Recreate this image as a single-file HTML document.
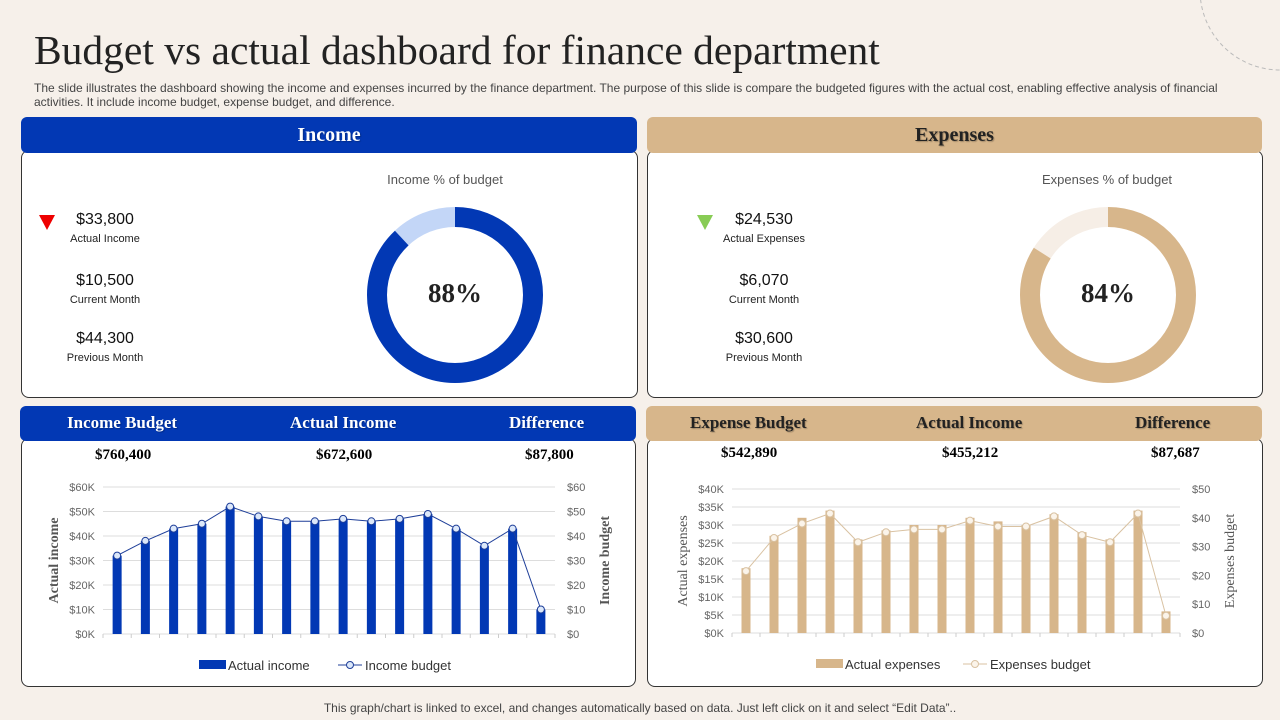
<!DOCTYPE html>
<html><head><meta charset="utf-8"><style>
body{margin:0;width:1280px;height:720px;background:#f6f0ea;font-family:"Liberation Sans",sans-serif;position:relative;overflow:hidden}
.a{position:absolute}
.serif{font-family:"Liberation Serif",serif}
.hdr{position:absolute;border-radius:6px;color:#fff;font-family:"Liberation Serif",serif;font-weight:bold;font-size:20px;text-align:center;line-height:36px;text-shadow:1px 1px 1px rgba(0,0,0,0.25)}
.panel{position:absolute;background:#fff;border:1px solid #333;border-radius:8px}
.kv{position:absolute;text-align:center;width:120px}
.kv b{display:block;font-weight:normal;font-size:16px;color:#111}
.kv span{font-size:11px;color:#222}
.sub{position:absolute;font-family:"Liberation Serif",serif;font-weight:bold;font-size:15px}
.lab{font-size:17px;text-shadow:1px 1px 1px rgba(0,0,0,0.25)}
</style></head><body>
<svg class="a" style="left:1160px;top:-10px" width="130" height="90"><circle cx="120" cy="0" r="80" fill="none" stroke="#bbb" stroke-dasharray="4,3"/></svg>
<div class="a serif" style="left:34px;top:26px;font-size:41.5px;color:#222">Budget vs actual dashboard for finance department</div>
<div class="a" style="left:34px;top:81px;width:1192px;font-size:12px;line-height:14px;color:#444">The slide illustrates the dashboard showing the income and expenses incurred by the finance department. The purpose of this slide is compare the budgeted figures with the actual cost, enabling effective analysis of financial activities. It include income budget, expense budget, and difference.</div>

<div class="panel" style="left:21px;top:150px;width:615px;height:246px"></div>
<div class="hdr" style="left:21px;top:117px;width:616px;height:36px;background:#0238b4">Income</div>
<div class="panel" style="left:647px;top:150px;width:614px;height:246px"></div>
<div class="hdr" style="left:647px;top:117px;width:615px;height:36px;background:#d7b68b;color:#222">Expenses</div>

<svg class="a" style="left:38px;top:213px" width="18" height="18"><polygon points="1,2 17,2 9,17" fill="#e00"/></svg>
<div class="kv" style="left:45px;top:211px"><b>$33,800</b><span>Actual Income</span></div>
<div class="kv" style="left:45px;top:272px"><b>$10,500</b><span>Current Month</span></div>
<div class="kv" style="left:45px;top:330px"><b>$44,300</b><span>Previous Month</span></div>
<svg class="a" style="left:696px;top:213px" width="18" height="18"><polygon points="1,2 17,2 9,17" fill="#8c5"/></svg>
<div class="kv" style="left:704px;top:211px"><b>$24,530</b><span>Actual Expenses</span></div>
<div class="kv" style="left:704px;top:272px"><b>$6,070</b><span>Current Month</span></div>
<div class="kv" style="left:704px;top:330px"><b>$30,600</b><span>Previous Month</span></div>

<div class="a" style="left:345px;top:172px;width:200px;text-align:center;font-size:13px;color:#555">Income % of budget</div>
<div class="a" style="left:1007px;top:172px;width:200px;text-align:center;font-size:13px;color:#555">Expenses % of budget</div>
<svg class="a" id="d1" style="left:355px;top:195px" width="200" height="200"></svg>
<svg class="a" id="d2" style="left:1008px;top:195px" width="200" height="200"></svg>
<div class="a serif" style="left:405px;top:278px;width:100px;text-align:center;font-size:27px;font-weight:bold;color:#222">88%</div>
<div class="a serif" style="left:1058px;top:278px;width:100px;text-align:center;font-size:27px;font-weight:bold;color:#222">84%</div>

<div class="panel" style="left:21px;top:438px;width:613px;height:247px"></div>
<div class="hdr" style="left:20px;top:406px;width:616px;height:35px;background:#0238b4;font-size:15px;line-height:35px"></div>
<div class="sub lab" style="left:67px;top:413px;color:#fff">Income Budget</div>
<div class="sub lab" style="left:290px;top:413px;color:#fff">Actual Income</div>
<div class="sub lab" style="left:509px;top:413px;color:#fff">Difference</div>
<div class="sub" style="left:95px;top:447px">$760,400</div>
<div class="sub" style="left:316px;top:447px">$672,600</div>
<div class="sub" style="left:525px;top:447px">$87,800</div>

<div class="panel" style="left:647px;top:438px;width:614px;height:247px"></div>
<div class="hdr" style="left:646px;top:406px;width:616px;height:35px;background:#d7b68b"></div>
<div class="sub lab" style="left:690px;top:413px;color:#222">Expense Budget</div>
<div class="sub lab" style="left:916px;top:413px;color:#222">Actual Income</div>
<div class="sub lab" style="left:1135px;top:413px;color:#222">Difference</div>
<div class="sub" style="left:721px;top:445px">$542,890</div>
<div class="sub" style="left:942px;top:445px">$455,212</div>
<div class="sub" style="left:1151px;top:445px">$87,687</div>

<svg class="a" id="c1" style="left:0;top:0" width="1280" height="720"></svg>
<div class="a" style="left:0;top:701px;width:1280px;text-align:center;font-size:12px;color:#444">This graph/chart is linked to excel, and changes automatically based on data. Just left click on it and select “Edit Data”..</div>
<script>
const incomeBars=[32,38,43,45,52,48,46,46,47,46,47,49,43,36,43,10];
const incomeLine=[32,38,43,45,52,48,46,46,47,46,47,49,43,36,43,10];
const incLeftTicks=['$0K','$10K','$20K','$30K','$40K','$50K','$60K'];
const incRightTicks=['$0','$10','$20','$30','$40','$50','$60'];
const expBars=[18,27,32,34,26,28.5,30,30,32,31,30,33,28,26,34,6];
const expLine=[21.5,33,38,41.5,31.5,35,36,36,39,37,37,40.5,34,31.5,41.5,6];
const expLeftTicks=['$0K','$5K','$10K','$15K','$20K','$25K','$30K','$35K','$40K'];
const expRightTicks=['$0','$10','$20','$30','$40','$50'];
const incomePct=88, expensePct=84;
const NS='http://www.w3.org/2000/svg';
function mk(p,t,a){const e=document.createElementNS(NS,t);for(const k in a)e.setAttribute(k,a[k]);p.appendChild(e);return e;}
function donut(id,pct,c1,c2){const s=document.getElementById(id);const cx=100,cy=100,r=78;
 const c=mk(s,'circle',{cx,cy,r,fill:'none',stroke:c2,'stroke-width':20});
 const L=2*Math.PI*r;const a=mk(s,'circle',{cx,cy,r,fill:'none',stroke:c1,'stroke-width':20,'stroke-dasharray':(L*pct/100)+' '+L,transform:'rotate(-90 100 100)'});
 }
donut('d1',incomePct,'#0238b4','#c3d6f7');donut('d2',expensePct,'#d7b68b','#f6eee6');
const svg=document.getElementById('c1');
function chart(o){const n=o.bars.length,x0=o.x0,x1=o.x1,y0=o.y0,y1=o.y1;const step=(x1-x0)/n;
 const yl=v=>y0-(v/o.lmax)*(y0-y1), yr=v=>y0-(v/o.rmax)*(y0-y1);
 o.lt.forEach((t,i)=>{const y=y0-i*(y0-y1)/(o.lt.length-1);
  const g=mk(svg,'line',{x1:x0,x2:x1,y1:y,y2:y,stroke:'#ddd'});
  const tx=mk(svg,'text',{x:x0-8,y:y+4,'text-anchor':'end','font-size':11,fill:'#666'});tx.textContent=t;});
 o.rt.forEach((t,i)=>{const y=y0-i*(y0-y1)/(o.rt.length-1);
  const tx=mk(svg,'text',{x:x1+12,y:y+4,'font-size':11,fill:'#666'});tx.textContent=t;});
 for(let i=0;i<=n;i++){mk(svg,'line',{x1:x0+i*step,x2:x0+i*step,y1:y0,y2:y0+4,stroke:'#ccc'});}
 o.bars.forEach((v,i)=>{const r=mk(svg,'rect',{x:x0+(i+0.5)*step-o.bw/2,y:yl(v),width:o.bw,height:y0-yl(v),fill:o.c});});
 const pts=o.line.map((v,i)=>[x0+(i+0.5)*step,yr(v)]);
 const pl=mk(svg,'polyline',{points:pts.map(p=>p.join(',')).join(' '),fill:'none',stroke:o.lc,'stroke-width':1});
 pts.forEach(p=>{const c=mk(svg,'circle',{cx:p[0],cy:p[1],r:3.5,fill:o.mf,stroke:o.lc,'stroke-width':1});});
 const a=mk(svg,'text',{x:0,y:0,transform:`translate(${o.tl} ${(y0+y1)/2}) rotate(-90)`,'text-anchor':'middle','font-size':14,fill:'#555','font-family':'Liberation Serif','font-weight':o.bold});a.textContent=o.ln;
 const b=mk(svg,'text',{x:0,y:0,transform:`translate(${o.tr} ${(y0+y1)/2}) rotate(-90)`,'text-anchor':'middle','font-size':14,fill:'#555','font-family':'Liberation Serif','font-weight':o.bold});b.textContent=o.rn;
 const lx=o.lx,ly=o.ly;
 const lr=mk(svg,'rect',{x:lx,y:ly-5,width:27,height:9,fill:o.c});
 const l1=mk(svg,'text',{x:lx+29,y:ly+5,'font-size':13,fill:'#333'});l1.textContent=o.l1;
 const lx2=o.lx2;mk(svg,'line',{x1:lx2,x2:lx2+24,y1:ly,y2:ly,stroke:o.lc});mk(svg,'circle',{cx:lx2+12,cy:ly,r:3.5,fill:o.mf,stroke:o.lc});
 const l2=mk(svg,'text',{x:lx2+27,y:ly+5,'font-size':13,fill:'#333'});l2.textContent=o.l2;}
chart({bars:incomeBars,line:incomeLine,lt:incLeftTicks,rt:incRightTicks,lmax:60,rmax:60,x0:103,x1:555,y0:634,y1:487,bw:9,c:'#0238b4',lc:'#1f3f99',mf:'#dce8fa',tl:58,tr:609,ln:'Actual income',rn:'Income budget',bold:'bold',lx:199,ly:665,lx2:338,l1:'Actual income',l2:'Income budget'});
chart({bars:expBars,line:expLine,lt:expLeftTicks,rt:expRightTicks,lmax:40,rmax:50,x0:732,x1:1180,y0:633,y1:489,bw:9,c:'#d7b68b',lc:'#d9c2a2',mf:'#fbf4ea',tl:687,tr:1234,ln:'Actual expenses',rn:'Expenses budget',bold:'normal',lx:816,ly:664,lx2:963,l1:'Actual expenses',l2:'Expenses budget'});
</script>
</body></html>
